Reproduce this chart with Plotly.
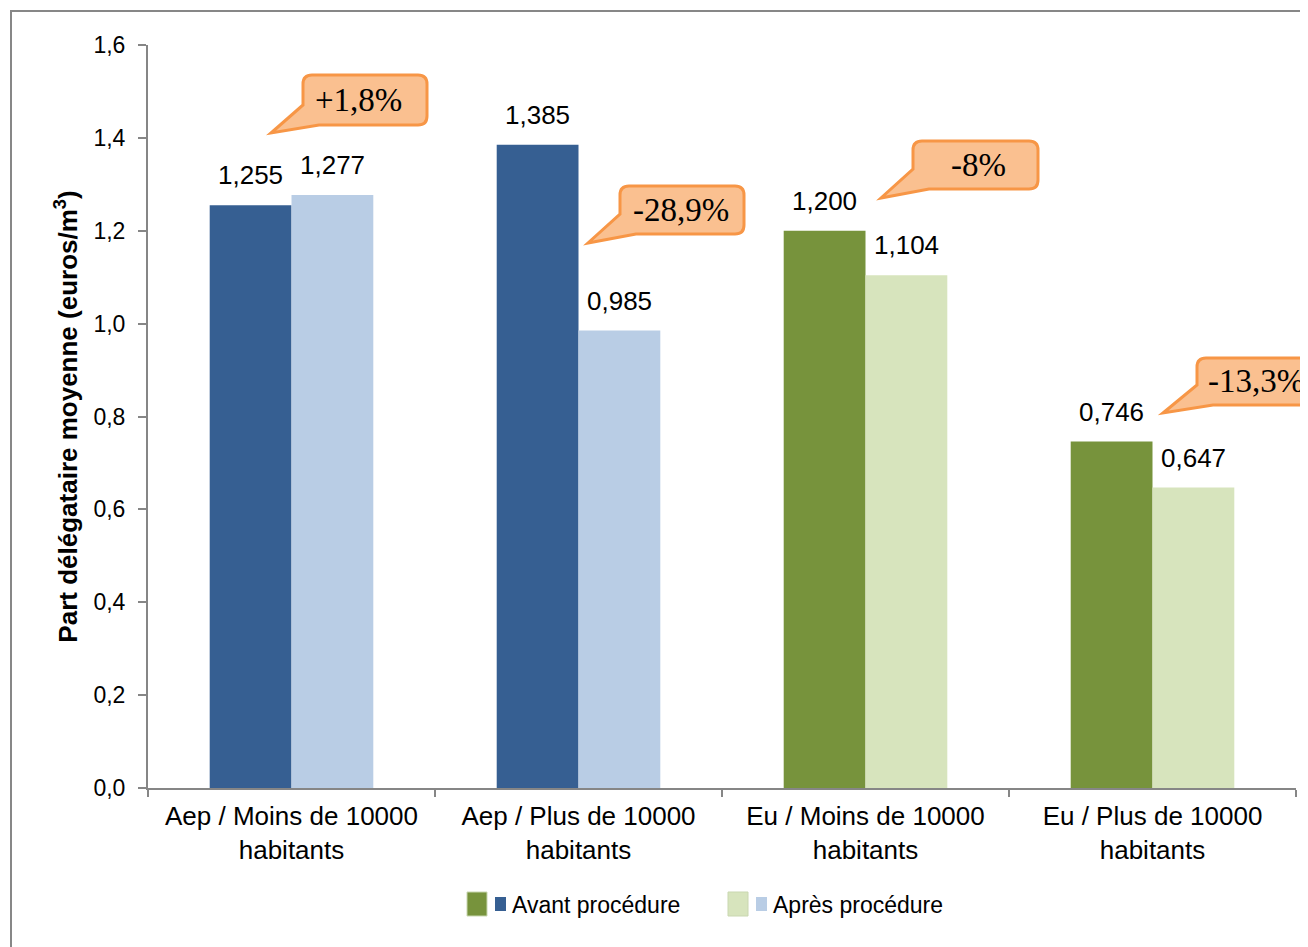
import plotly.graph_objects as go

# ---------------- data ----------------
categories = [
    "Aep / Moins de 10000<br>habitants",
    "Aep / Plus de 10000<br>habitants",
    "Eu / Moins de 10000<br>habitants",
    "Eu / Plus de 10000<br>habitants",
]
aep_categories = categories[:2]
eu_categories = categories[2:]
aep_avant = [1.255, 1.385]
aep_apres = [1.277, 0.985]
eu_avant = [1.200, 0.746]
eu_apres = [1.104, 0.647]
series_names = ["Avant procédure", "Après procédure"]
y_ticks = [0.0, 0.2, 0.4, 0.6, 0.8, 1.0, 1.2, 1.4, 1.6]
callout_texts = ["+1,8%", "-28,9%", "-8%", "-13,3%"]
y_title = "Part délégataire moyenne (euros/m<sup>3</sup>)"

# ---------------- style ----------------
OFF = 8                      # browser body margin
W, H = 1308 - OFF, 947 - OFF
L, R, T, B = 148, 1296, 45, 788   # plot area in page pixels
BLUE, LBLUE = "#365F92", "#B9CDE5"
GREEN, LGREEN = "#77933C", "#D7E4BD"
ORANGE_FILL, ORANGE_LINE = "#FAC090", "#F79646"
AXIS = "#868686"
FONT = "Liberation Sans"
BARGAP = 0.43


def px(x):
    return (x - L) / (R - L)


def py(y):
    return (B - y) / (B - T)


fig = go.Figure()
fig.add_trace(go.Bar(x=aep_categories, y=aep_avant, name=series_names[0], marker_color=BLUE,
                     offsetgroup="avant", showlegend=False))
fig.add_trace(go.Bar(x=aep_categories, y=aep_apres, name=series_names[1], marker_color=LBLUE,
                     offsetgroup="apres", showlegend=False))
fig.add_trace(go.Bar(x=eu_categories, y=eu_avant, name=series_names[0], marker_color=GREEN,
                     offsetgroup="avant", showlegend=False))
fig.add_trace(go.Bar(x=eu_categories, y=eu_apres, name=series_names[1], marker_color=LGREEN,
                     offsetgroup="apres", showlegend=False))
for tr in fig.data:
    tr.marker.line.width = 0

# data labels
half = (1 - BARGAP) / 4
avant_all = aep_avant + eu_avant
apres_all = aep_apres + eu_apres
annotations = []
for i, cat in enumerate(categories):
    for off, vals in ((-half, avant_all), (half, apres_all)):
        v = vals[i]
        annotations.append(dict(
            x=i + off, y=v, xref="x", yref="y", text=f"{v:.3f}".replace(".", ","),
            showarrow=False, yanchor="bottom", yshift=13,
            font=dict(family=FONT, size=26, color="#000000")))

# callouts: box (x0, y0, x1, y1), tip and text centre, in page pixels
callout_boxes = [
    ((303, 75, 427, 125), (271, 133), (358, 100)),
    ((620, 186, 744, 234), (588, 243), (681, 210)),
    ((913, 141, 1038, 189), (881, 198), (978, 165)),
    ((1197, 358, 1330, 405), (1163, 413), (1256, 381)),
]
shapes = []
r = 9
for (box, tip, tc), txt in zip(callout_boxes, callout_texts):
    x0, y0, x1, y1 = box
    path = (
        f"M{px(x0 + r)},{py(y0)} L{px(x1 - r)},{py(y0)} Q{px(x1)},{py(y0)} {px(x1)},{py(y0 + r)} "
        f"L{px(x1)},{py(y1 - r)} Q{px(x1)},{py(y1)} {px(x1 - r)},{py(y1)} "
        f"L{px(x0 + 16)},{py(y1)} L{px(tip[0])},{py(tip[1])} L{px(x0)},{py(y1 - 20)} "
        f"L{px(x0)},{py(y0 + r)} Q{px(x0)},{py(y0)} {px(x0 + r)},{py(y0)} Z"
    )
    shapes.append(dict(type="path", path=path, xref="paper", yref="paper",
                       fillcolor=ORANGE_FILL, line=dict(color=ORANGE_LINE, width=3), layer="above"))
    annotations.append(dict(x=px(tc[0]), y=py(tc[1]), xref="paper", yref="paper", text=txt,
                            showarrow=False, xanchor="center", yanchor="middle",
                            font=dict(family="Liberation Serif", size=33, color="#000000")))

# outer chart frame
shapes.append(dict(type="rect", xref="paper", yref="paper", x0=px(11), x1=px(1400), y0=py(1000), y1=py(11),
                   line=dict(color="#878787", width=2), fillcolor="rgba(0,0,0,0)", layer="below"))

# legend (manual, two swatches per entry)
legend_items = [
    (GREEN, BLUE, series_names[0], 467),
    (LGREEN, LBLUE, series_names[1], 728),
]
for big, small, name, x in legend_items:
    shapes.append(dict(type="rect", xref="paper", yref="paper", x0=px(x), x1=px(x + 20),
                       y0=py(916), y1=py(892), fillcolor=big, line=dict(color="#C9D7B0", width=1)))
    shapes.append(dict(type="rect", xref="paper", yref="paper", x0=px(x + 28), x1=px(x + 39),
                       y0=py(911), y1=py(897), fillcolor=small, line=dict(width=0)))
    annotations.append(dict(x=px(x + 43), y=py(905), xref="paper", yref="paper", text=name,
                            showarrow=False, xanchor="left", yanchor="middle",
                            font=dict(family=FONT, size=23, color="#000000")))

fig.update_layout(
    width=W, height=H,
    margin=dict(l=L - OFF, r=W - (R - OFF), t=T - OFF, b=H - (B - OFF), pad=0),
    paper_bgcolor="white", plot_bgcolor="white",
    barmode="group", bargap=BARGAP, bargroupgap=0,
    separators=", ",
    font=dict(family=FONT, color="#000000"),
    shapes=shapes, annotations=annotations,
    showlegend=False,
)
fig.update_xaxes(
    categoryorder="array", categoryarray=categories,
    showline=True, linecolor=AXIS, linewidth=2,
    ticks="outside", tickson="boundaries", ticklen=7, tickcolor=AXIS, tickwidth=2,
    tickfont=dict(family=FONT, size=26, color="#000000"),
    ticklabelstandoff=4,
    showgrid=False, zeroline=False,
)
fig.update_yaxes(
    range=[0, 1.6], tickvals=y_ticks, tickformat=".1f",
    showline=True, linecolor=AXIS, linewidth=2,
    ticks="outside", ticklen=8, tickcolor=AXIS, tickwidth=2,
    tickfont=dict(family=FONT, size=23, color="#000000"),
    ticklabelstandoff=8,
    showgrid=False, zeroline=False,
    title=dict(text=f"<b>{y_title}</b>", font=dict(family=FONT, size=26, color="#000000"), standoff=8),
)

fig.write_html("out.html")
